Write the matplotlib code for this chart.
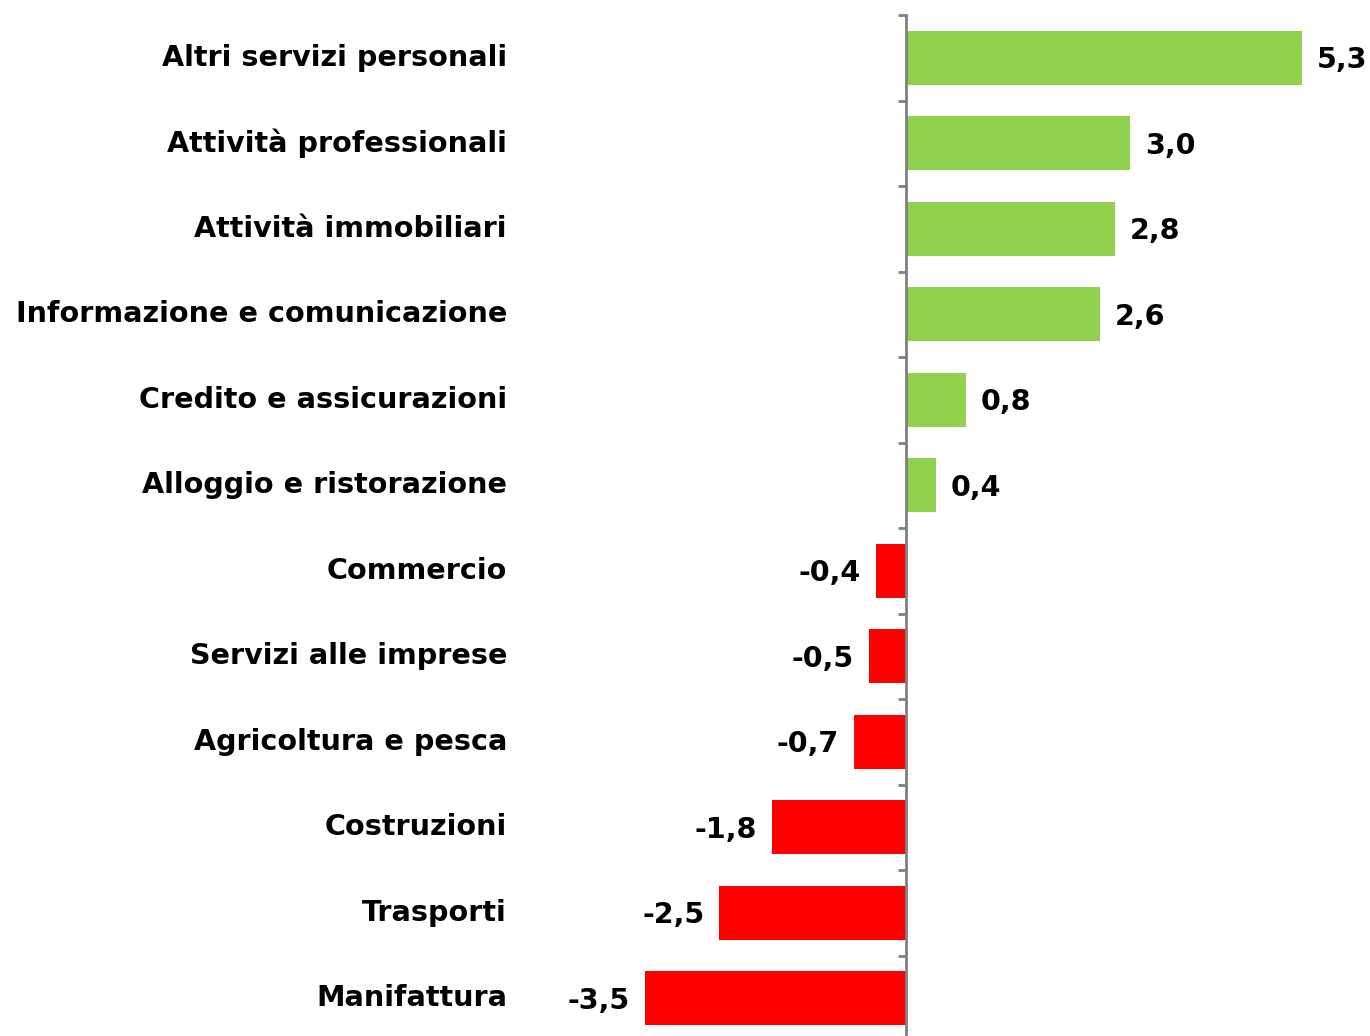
import matplotlib
matplotlib.use("Agg")
import matplotlib.pyplot as plt
import matplotlib.transforms as mtransforms
import numpy as np

categories = ["Altri servizi personali", "Attività professionali", "Attività immobiliari",
              "Informazione e comunicazione", "Credito e assicurazioni", "Alloggio e ristorazione",
              "Commercio", "Servizi alle imprese", "Agricoltura e pesca", "Costruzioni",
              "Trasporti", "Manifattura"]
values = [5.3, 3.0, 2.8, 2.6, 0.8, 0.4, -0.4, -0.5, -0.7, -1.8, -2.5, -3.5]

GREEN = "#92D050"
RED = "#FF0000"
W, H = 1370, 1036
fig = plt.figure(figsize=(W / 100, H / 100), dpi=100)
# axes: left 520px, right 1370px, top 15px, bottom 1041px
ax = fig.add_axes([520 / W, (H - 1041) / H, (W - 520) / W, (1041 - 15) / H])
ax.set_xlim(-(906 - 520) / 74.7, (W - 906) / 74.7)
ax.set_ylim(len(categories) - 0.5, -0.5)

y = np.arange(len(categories))
cols = [GREEN if v >= 0 else RED for v in values]
ax.barh(y, values, height=0.63, color=cols, zorder=2)

for s in ["top", "right", "bottom"]:
    ax.spines[s].set_visible(False)
ax.spines["left"].set_position(("data", 0))
ax.spines["left"].set_color("#808080")
ax.spines["left"].set_linewidth(2)
ax.spines["left"].set_zorder(3)
ax.set_xticks([])
ax.set_yticks(np.arange(len(categories) + 1) - 0.5)
ax.set_yticklabels([])
ax.tick_params(axis="y", direction="out", length=6, width=2, color="#808080")

fs = 20.6
trans = mtransforms.blended_transform_factory(fig.transFigure, ax.transData)
for i, c in enumerate(categories):
    ax.text(507 / W, i, c, transform=trans, ha="right", va="center",
            fontsize=fs, fontweight="bold", color="black")

off = 15 / 74.7
for i, v in enumerate(values):
    lab = f"{v:.1f}".replace(".", ",")
    if v >= 0:
        ax.text(v + off, i + 0.03, lab, ha="left", va="center", fontsize=fs,
                fontweight="bold", clip_on=False)
    else:
        ax.text(v - off, i + 0.03, lab, ha="right", va="center", fontsize=fs,
                fontweight="bold", clip_on=False)

fig.savefig("out.png", dpi=100)
